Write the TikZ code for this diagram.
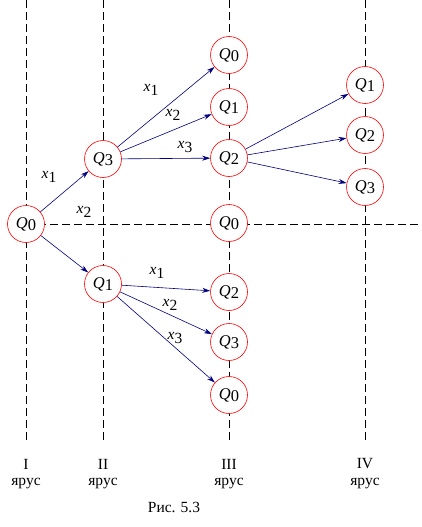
\documentclass[tikz,border=0pt]{standalone}
\usepackage{fontspec}
\setmainfont{Liberation Serif}
\usetikzlibrary{arrows.meta}
\definecolor{navyb}{RGB}{0,0,128}
\newcommand{\qq}[1]{\textit{Q}\raisebox{-0.35ex}{#1}}
\newcommand{\xx}[1]{\textit{x}\raisebox{-0.55ex}{#1}}
\begin{document}
\begin{tikzpicture}[x=1pt,y=-1pt,font=\fontsize{15.5}{18}\selectfont,
  st/.style={circle,draw=red,fill=white,line width=0.6pt,minimum size=37pt,inner sep=0pt,font=\fontsize{16.5}{18}\selectfont},
  guide/.style={draw=black,dash pattern=on 8pt off 4pt,line width=0.6pt},
  arr/.style={draw=navyb,line width=0.6pt,-{Stealth[length=8pt,width=5pt]},shorten >=0pt},
  lab/.style={inner sep=1pt}]
\useasboundingbox (0,0) rectangle (421,527);
% guide coordinates
\coordinate (t1) at (26,0);   \coordinate (b1) at (26,441);
\coordinate (t2) at (103,0);  \coordinate (b2) at (103,441);
\coordinate (t3) at (229,0);  \coordinate (b3) at (229,441);
\coordinate (t4) at (365,0);  \coordinate (b4) at (365,441);
\coordinate (hl) at (26,224); \coordinate (hr) at (421,224);
\draw[guide] (t1) -- (b1);
\draw[guide] (t2) -- (b2);
\draw[guide] (t3) -- (b3);
\draw[guide] (t4) -- (b4);
\draw[guide] (hl) -- (hr);
% nodes
\node[st] (a0) at (26,224) {\qq{0}};
\node[st] (b3n) at (103,159) {\qq{3}};
\node[st] (b1n) at (103,284) {\qq{1}};
\node[st] (c0a) at (229,55) {\qq{0}};
\node[st] (c1) at (229,107) {\qq{1}};
\node[st] (c2a) at (229,158) {\qq{2}};
\node[st] (c0b) at (229,223) {\qq{0}};
\node[st] (c2b) at (229,292) {\qq{2}};
\node[st] (c3) at (229,342) {\qq{3}};
\node[st] (c0c) at (229,395) {\qq{0}};
\node[st] (d1) at (365,85) {\qq{1}};
\node[st] (d2) at (365,135) {\qq{2}};
\node[st] (d3) at (365,187) {\qq{3}};
% arrows
\draw[arr] (a0) -- (b3n);
\draw[arr] (a0) -- (b1n);
\draw[arr] (b3n) -- (c0a);
\draw[arr] (b3n) -- (c1);
\draw[arr] (b3n) -- (c2a);
\draw[arr] (c2a) -- (d1);
\draw[arr] (c2a) -- (d2);
\draw[arr] (c2a) -- (d3);
\draw[arr] (b1n) -- (c2b);
\draw[arr] (b1n) -- (c3);
\draw[arr] (b1n) -- (c0c);
% labels
\node[lab] (l1) at (49,177) {\xx{1}};
\node[lab] (l2) at (84,212) {\xx{2}};
\node[lab] (l3) at (151,90) {\xx{1}};
\node[lab] (l4) at (173,115) {\xx{2}};
\node[lab] (l5) at (185,147) {\xx{3}};
\node[lab] (l6) at (157,273) {\xx{1}};
\node[lab] (l7) at (170,305) {\xx{2}};
\node[lab] (l8) at (175,338) {\xx{3}};
% tiers
\node (r1) at (26,464) {I};
\node (r2) at (103,464) {II};
\node (r3) at (229,464) {III};
\node (r4) at (365,464) {IV};
\node (y1) at (26,484) {ярус};
\node (y2) at (103,484) {ярус};
\node (y3) at (229,484) {ярус};
\node (y4) at (365,484) {ярус};
\node (cap) at (174,507) {Рис. 5.3};
\end{tikzpicture}
\end{document}
